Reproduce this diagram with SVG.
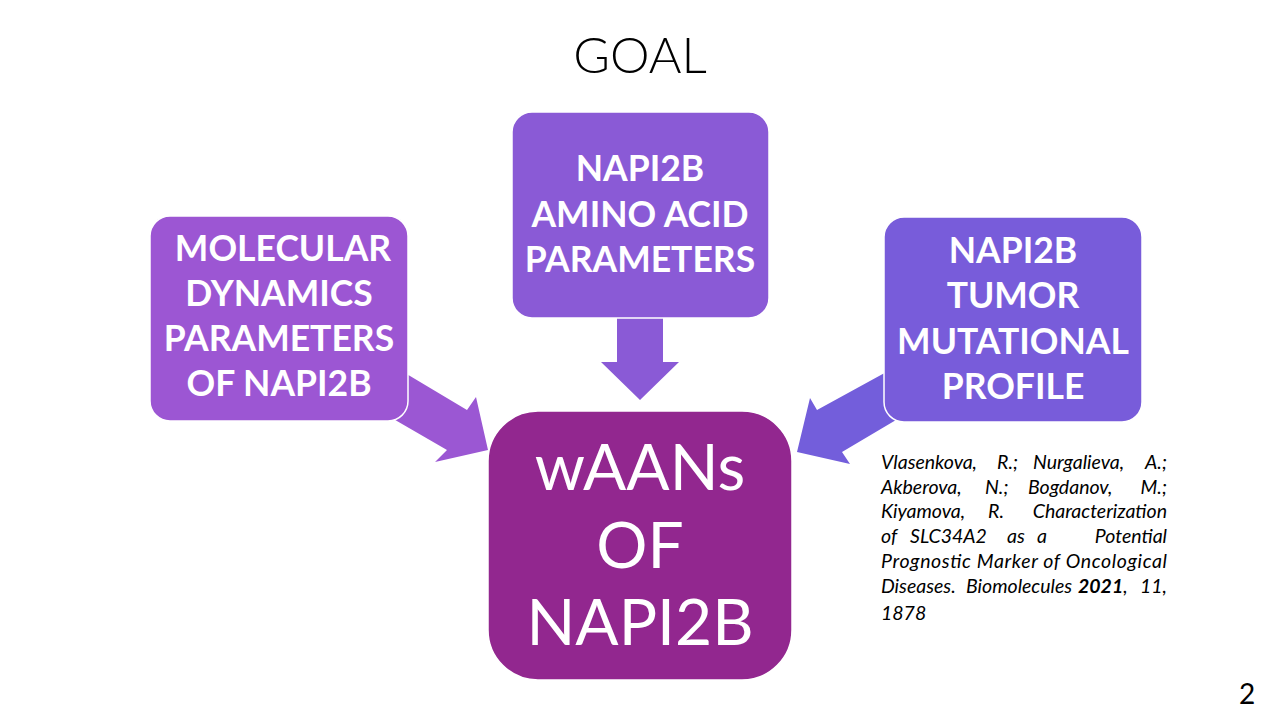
<svg xmlns="http://www.w3.org/2000/svg" width="1280" height="720" viewBox="0 0 1280 720">
<style>
.box{stroke:#fff;stroke-width:1.5}
.bt{font-family:Lato,"Open Sans","Liberation Sans",sans-serif;font-weight:bold;font-size:35.5px;fill:#fff;text-anchor:middle}
.ct{font-family:Lato,"Open Sans","Liberation Sans",sans-serif;font-size:64px;fill:#fff;text-anchor:middle}
.cit{font-family:Lato,"Open Sans","Liberation Sans",sans-serif;font-style:italic;font-size:19.5px;fill:#000}
</style>
<rect width="1280" height="720" fill="#fff"/>
<text x="640" y="73" font-family="Lato,'Open Sans','Liberation Sans',sans-serif" font-weight="300" font-size="50" text-anchor="middle" fill="#000">GOAL</text>
<g id="connectors">
<polygon points="617,316 663,316 663,362 679,362 640,400 601,362 617,362" fill="#8a5ad6"/>
<polygon points="400,370 467,410 476,397 488,450 435,462 447,450 390,417" fill="#9b57d3"/>
<polygon points="890,370 817,410 810,398 797,452 850,464 842,452 896,420" fill="#735edb"/>
</g>
<g id="node-md">
<rect class="box" x="150" y="216" width="258" height="205" rx="20" fill="#9c56d3"/>
<text class="bt" x="283" y="261">MOLECULAR</text>
<text class="bt" x="279" y="306">DYNAMICS</text>
<text class="bt" x="279" y="351">PARAMETERS</text>
<text class="bt" x="279" y="396">OF NAPI2B</text>
</g>
<g id="node-aa">
<rect class="box" x="512" y="112" width="257" height="206" rx="20" fill="#8a5ad6"/>
<text class="bt" x="640" y="181">NAPI2B</text>
<text class="bt" x="640" y="227">AMINO ACID</text>
<text class="bt" x="640" y="272">PARAMETERS</text>
</g>
<g id="node-tm">
<rect class="box" x="884" y="217" width="258" height="205" rx="20" fill="#785cda"/>
<text class="bt" x="1013" y="263">NAPI2B</text>
<text class="bt" x="1013" y="308">TUMOR</text>
<text class="bt" x="1013" y="354">MUTATIONAL</text>
<text class="bt" x="1013" y="399">PROFILE</text>
</g>
<g id="node-waans">
<rect class="box" x="488" y="411" width="304" height="269" rx="50" fill="#92278f"/>
<text class="ct" x="640" y="490">wAANs</text>
<text class="ct" x="640" y="568">OF</text>
<text class="ct" x="640" y="645">NAPI2B</text>
</g>
<g id="citation" class="cit">
<text y="469"><tspan x="881">Vlasenkova,</tspan><tspan x="997">R.;</tspan><tspan x="1033">Nurgalieva,</tspan><tspan x="1167" text-anchor="end">A.;</tspan></text>
<text y="494"><tspan x="881">Akberova,</tspan><tspan x="985">N.;</tspan><tspan x="1028">Bogdanov,</tspan><tspan x="1167" text-anchor="end">M.;</tspan></text>
<text y="518"><tspan x="881">Kiyamova,</tspan><tspan x="988">R.</tspan><tspan x="1167" text-anchor="end">Characterization</tspan></text>
<text y="543"><tspan x="881">of</tspan><tspan x="910">SLC34A2</tspan><tspan x="1007">as</tspan><tspan x="1037">a</tspan><tspan x="1167" text-anchor="end">Potential</tspan></text>
<text y="568" x="881" textLength="286" lengthAdjust="spacing">Prognostic Marker of Oncological</text>
<text y="593"><tspan x="881">Diseases.</tspan><tspan x="966">Biomolecules</tspan><tspan x="1078" font-weight="bold">2021</tspan><tspan>,</tspan><tspan x="1167" text-anchor="end">11,</tspan></text>
<text y="620" x="881">1878</text>
</g>
<text x="1247" y="704" font-family="Lato,'Open Sans','Liberation Sans',sans-serif" font-size="28" text-anchor="middle" fill="#000">2</text>
</svg>
